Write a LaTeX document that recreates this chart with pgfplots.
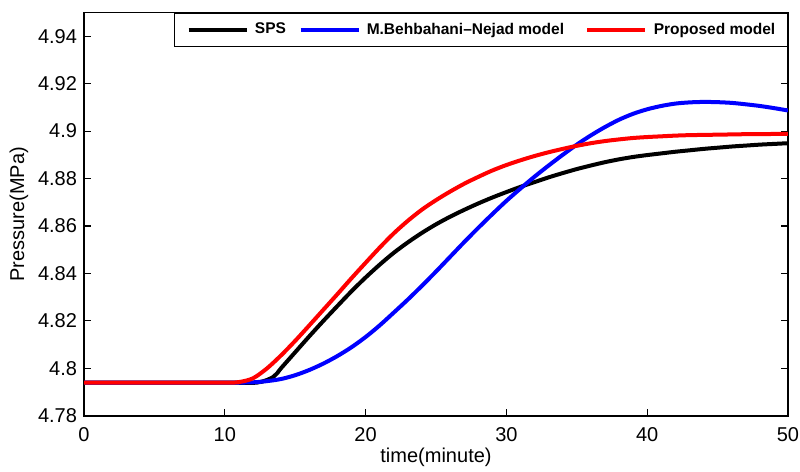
\documentclass[border=0pt]{standalone}
\usepackage{fontspec}
\setmainfont{Liberation Sans}
\usepackage{pgfplots}
\pgfplotsset{compat=1.18}

% pressure curves, time in minutes
\pgfplotstableread{
t p
0 4.794
5 4.794
10 4.794
12.3 4.794
13.45 4.7964
14 4.8001
15 4.8068
16 4.8135
17 4.8200
18 4.8263
19 4.8325
20 4.8383
21 4.8437
22 4.8487
23 4.8531
24 4.8571
25 4.8607
26 4.8639
27 4.8668
28 4.8695
29 4.8720
30 4.8743
31 4.8765
32 4.8785
33 4.8805
34 4.8823
35 4.8840
36 4.8855
37 4.8869
38 4.8881
39 4.8891
40 4.8899
41 4.8906
42 4.8913
43 4.8919
44 4.8925
45 4.8930
46 4.8935
47 4.8939
48 4.8943
49 4.8946
50 4.8949
}\sps
\pgfplotstableread{
t p
0 4.794
5 4.794
10 4.794
11 4.794
12 4.7941
13 4.7946
14 4.7955
15 4.7971
16 4.7993
17 4.8020
18 4.8052
19 4.8089
20 4.8132
21 4.8181
22 4.8235
23 4.8290
24 4.8348
25 4.8408
26 4.8470
27 4.8532
28 4.8592
29 4.8650
30 4.8706
31 4.8758
32 4.8808
33 4.8855
34 4.8900
35 4.8943
36 4.8982
37 4.9017
38 4.9048
39 4.9073
40 4.9092
41 4.9106
42 4.9116
43 4.9121
44 4.9123
45 4.9122
46 4.9119
47 4.9113
48 4.9106
49 4.9097
50 4.9087
}\behb
\pgfplotstableread{
t p
0 4.794
5 4.794
10 4.794
11 4.7942
12 4.7958
13 4.8000
14 4.8055
15 4.8116
16 4.8181
17 4.8247
18 4.8313
19 4.8380
20 4.8445
21 4.8509
22 4.8569
23 4.8622
24 4.8669
25 4.8709
26 4.8745
27 4.8778
28 4.8807
29 4.8834
30 4.8857
31 4.8877
32 4.8895
33 4.8911
34 4.8925
35 4.8938
36 4.8949
37 4.8958
38 4.8965
39 4.8971
40 4.8975
41 4.8978
42 4.8981
43 4.8983
44 4.8984
45 4.8985
46 4.8986
47 4.8987
48 4.8987
49 4.8988
50 4.8988
}\prop

\begin{document}
\begin{tikzpicture}
\path[use as bounding box] (-42pt,-27.75pt) rectangle (357.75pt,207.75pt);
\begin{axis}[
    scale only axis,
    width=351.75pt, height=201.5pt,
    xmin=0, xmax=50, ymin=4.78, ymax=4.95,
    xtick={0,10,20,30,40,50},
    ytick={4.78,4.8,4.82,4.84,4.86,4.88,4.9,4.92,4.94},
    scaled y ticks=false,
    /pgf/number format/.cd, fixed, precision=2, assume math mode=true,
    /pgfplots/.cd,
    tick align=inside, tick pos=both,
    major tick length=3.3pt,
    every tick/.style={black, line width=0.6pt},
    axis line style={line width=0.8pt},
    ticklabel style={font=\fontsize{10}{12}\selectfont},
    xticklabel style={yshift=-2.2pt},
    label style={font=\fontsize{10}{12}\selectfont},
    xlabel={time(minute)},
    ylabel={Pressure(MPa)},
    xlabel style={at={(axis description cs:0.5,0)}, anchor=center, yshift=-20.75pt},
    ylabel style={at={(axis description cs:-0.0924,0.5)}, anchor=center},
    legend columns=3,
    legend image code/.code={\draw[#1, line width=2pt] (0pt,0pt) -- (29pt,0pt);},
    legend style={at={(1,1)}, anchor=north east, draw=black, line width=0.7pt,
        font=\fontsize{7.75}{9}\selectfont\bfseries,
        nodes={inner sep=0pt},
        inner xsep=6pt, inner ysep=4.8pt,
        /tikz/column 1/.style={column sep=3.15pt},
        /tikz/column 2/.style={column sep=6.35pt},
        /tikz/column 3/.style={column sep=3pt},
        /tikz/column 4/.style={column sep=10.65pt},
        /tikz/column 5/.style={column sep=3.15pt}},
    legend cell align=left,
    every axis plot/.append style={line width=2pt, line join=round},
]
\addplot[black, smooth, tension=0.5] table {\sps};
\addlegendentry{SPS}
\addplot[blue, smooth, tension=0.5] table {\behb};
\addlegendentry{M.Behbahani--Nejad model}
\addplot[red, smooth, tension=0.5] table {\prop};
\addlegendentry{Proposed model\hspace{6.75pt}}
\end{axis}
\end{tikzpicture}
\end{document}
